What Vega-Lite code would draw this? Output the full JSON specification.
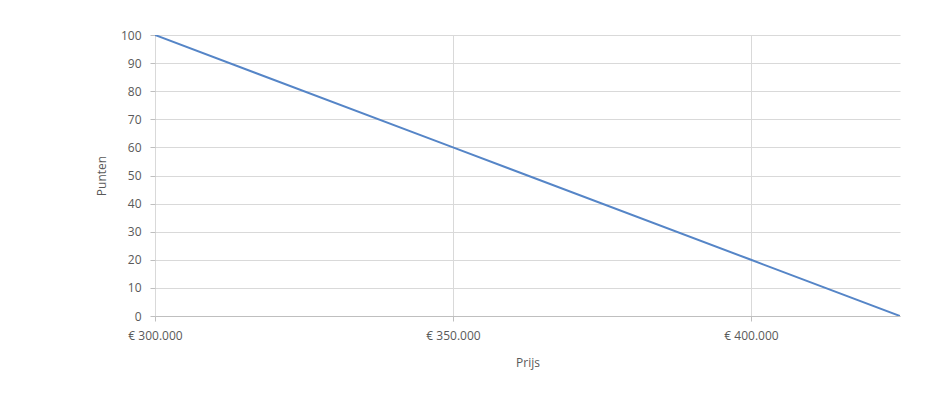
{
  "$schema": "https://vega.github.io/schema/vega-lite/v6.json",
  "width": 745,
  "height": 281,
  "autosize": {"type": "none"},
  "padding": {"left": 155, "top": 35, "right": 52, "bottom": 96},
  "background": "white",
  "data": {"values": [
    {"prijs": 300000, "punten": 100},
    {"prijs": 350000, "punten": 60},
    {"prijs": 400000, "punten": 20},
    {"prijs": 425000, "punten": 0}
  ]},
  "mark": {"type": "line", "color": "#5585c7", "strokeWidth": 2, "clip": true},
  "encoding": {
    "x": {
      "field": "prijs", "type": "quantitative",
      "scale": {"domain": [300000, 425000], "nice": false, "zero": false},
      "axis": {
        "title": "Prijs",
        "values": [300000, 350000, 400000],
        "labelFlush": false,
        "labelExpr": "'€ ' + replace(format(datum.value, ','), regexp(',', 'g'), '.')",
        "titlePadding": 16
      }
    },
    "y": {
      "field": "punten", "type": "quantitative",
      "scale": {"domain": [0, 100], "nice": false},
      "axis": {"title": "Punten", "values": [0,10,20,30,40,50,60,70,80,90,100], "titlePadding": 12, "labelFlush": false}
    }
  },
  "config": {
    "view": {"stroke": null},
    "font": "Open Sans",
    "axis": {
      "labelFont": "Open Sans",
      "titleFont": "Open Sans",
      "labelFontSize": 12,
      "titleFontSize": 12,
      "titleFontWeight": "normal",
      "labelColor": "#595959",
      "titleColor": "#595959",
      "gridColor": "#d9d9d9",
      "gridWidth": 1,
      "domainColor": "#bfbfbf",
      "tickColor": "#bfbfbf",
      "tickSize": 5
    },
    "axisY": {"domain": false, "labelPadding": 9},
    "axisX": {"labelPadding": 9}
  }
}
